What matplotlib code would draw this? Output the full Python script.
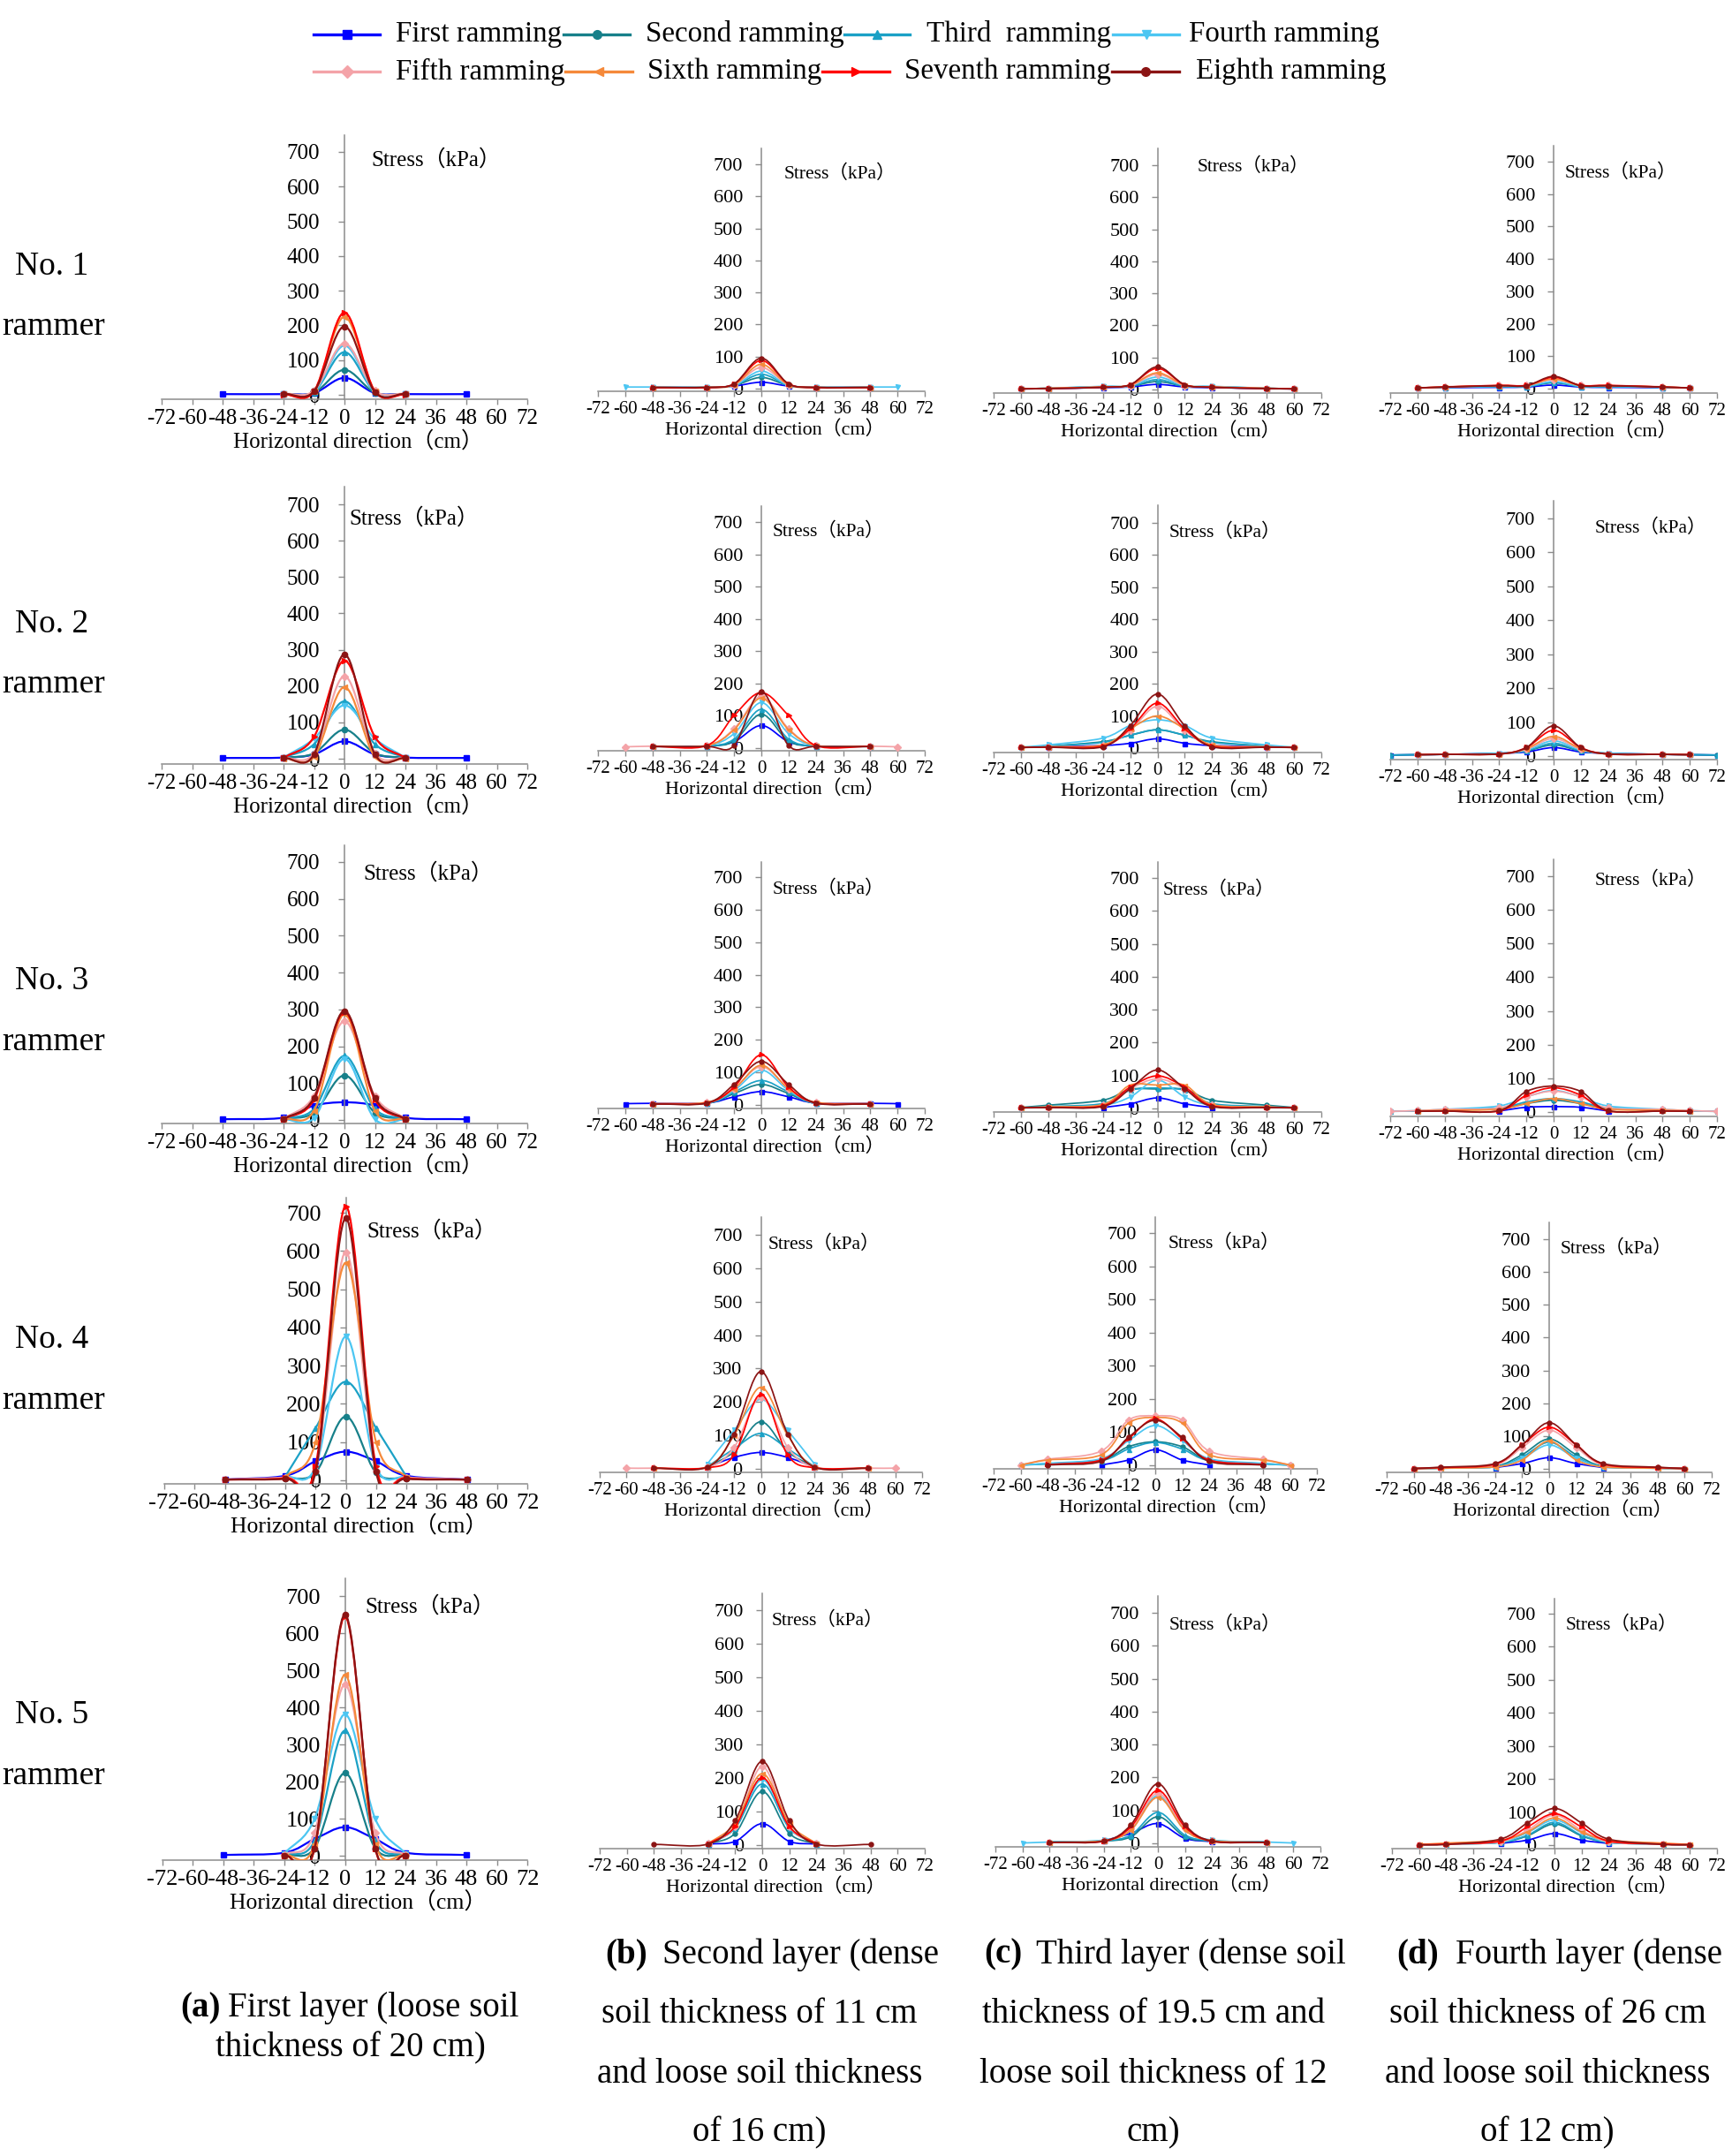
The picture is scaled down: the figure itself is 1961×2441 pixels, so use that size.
import numpy as np
import matplotlib
matplotlib.use('Agg')
import matplotlib.pyplot as plt
from matplotlib.path import Path
from matplotlib.patches import PathPatch
from matplotlib.lines import Line2D

plt.rcParams['font.family'] = ['Liberation Serif', 'Noto Sans CJK SC']
plt.rcParams['axes.unicode_minus'] = False

nan = float('nan')

# ---------------- data ----------------
SERIES = ["First ramming", "Second ramming", "Third  ramming", "Fourth ramming",
          "Fifth ramming", "Sixth ramming", "Seventh ramming", "Eighth ramming"]
COLORS = ['#0000FF', '#17808A', '#1BA1C6', '#4CC6F2',
          '#F4A3A8', '#F5893A', '#FF0000', '#8B1414']
MARKERS = ['s', 'o', '^', 'v', 'D', '<', '>', 'o']

X_A = [-48, -24, -12, 0, 12, 24, 48]
X_BCD = [-72, -60, -48, -24, -12, 0, 12, 24, 48, 60, 72]
X_TICKS = [-72, -60, -48, -36, -24, -12, 0, 12, 24, 36, 48, 60, 72]
Y_TICKS = [0, 100, 200, 300, 400, 500, 600, 700]

ROW_LABELS = ["No. 1", "No. 2", "No. 3", "No. 4", "No. 5"]

# column (a), x = X_A
R1_A = [[2, 2, 5, 49, 5, 2, 2],
        [nan, 2, 6, 72, 6, 2, nan],
        [nan, 2, 8, 123, 8, 2, nan],
        [nan, 2, 8, 142, 8, 2, nan],
        [nan, 3, 12, 148, 12, 3, nan],
        [nan, 2, 10, 225, 10, 2, nan],
        [nan, 1, 10, 237, 10, 1, nan],
        [nan, 3, 10, 197, 8, 3, nan]]
R2_A = [[2, 3, 12, 48, 12, 3, 2],
        [nan, 2, 15, 80, 15, 2, nan],
        [nan, 3, 40, 158, 40, 3, nan],
        [nan, 3, 55, 147, 55, 3, nan],
        [nan, 2, 15, 227, 15, 2, nan],
        [nan, 1, 5, 197, 5, 1, nan],
        [nan, 2, 60, 270, 60, 2, nan],
        [nan, 2, 12, 287, 12, 2, nan]]
R3_A = [[2, 6, 39, 48, 39, 6, 2],
        [nan, 3, 20, 121, 20, 3, nan],
        [nan, 3, 30, 174, 30, 3, nan],
        [nan, 2, 5, 166, 2, 2, nan],
        [nan, 3, 65, 268, 65, 3, nan],
        [nan, 2, 25, 287, 25, 2, nan],
        [nan, 2, 55, 293, 55, 2, nan],
        [nan, 2, 60, 296, 60, 2, nan]]
R4_A = [[2, 12, 50, 75, 50, 12, 2],
        [nan, 5, 20, 167, 20, 5, nan],
        [nan, 10, 137, 258, 137, 10, nan],
        [nan, 8, 35, 376, 35, 8, nan],
        [2, 8, 25, 597, 25, 8, 2],
        [nan, 8, 100, 569, 100, 8, nan],
        [2, 6, 36, 717, 36, 6, 2],
        [2, 4, 22, 686, 22, 4, 2]]
R5_A = [[2, 8, 45, 77, 45, 8, 2],
        [nan, 2, 20, 223, 20, 2, nan],
        [nan, 2, 40, 337, 40, 2, nan],
        [nan, 5, 99, 381, 99, 5, nan],
        [nan, 2, 61, 461, 61, 2, nan],
        [nan, 1, 30, 487, 30, 1, nan],
        [nan, 1, 18, 645, 18, 1, nan],
        [nan, 1, 20, 650, 20, 1, nan]]

# columns (b)-(d), x = X_BCD
R1_B = [[nan, nan, 4, 4, 8, 20, 8, 4, 4, nan, nan],
        [nan, nan, 4, 4, 10, 35, 10, 4, 4, nan, nan],
        [nan, nan, 4, 4, 10, 45, 10, 4, 4, nan, nan],
        [nan, 5, 5, 5, 10, 55, 10, 5, 5, 5, nan],
        [nan, nan, 4, 4, 12, 66, 12, 4, 4, nan, nan],
        [nan, nan, 4, 4, 12, 76, 12, 4, 4, nan, nan],
        [nan, nan, 3, 3, 15, 88, 15, 3, 3, nan, nan],
        [nan, nan, 4, 4, 15, 95, 15, 4, 4, nan, nan]]
R1_C = [[nan, 2, 3, 6, 8, 16, 8, 6, 3, 2, nan],
        [nan, 2, 4, 8, 10, 25, 10, 8, 4, 2, nan],
        [nan, 2, 4, 9, 10, 31, 10, 9, 4, 2, nan],
        [nan, 2, 4, 10, 12, 39, 12, 10, 4, 2, nan],
        [nan, 2, 4, 8, 12, 48, 12, 8, 4, 2, nan],
        [nan, 2, 4, 8, 14, 52, 14, 8, 4, 2, nan],
        [nan, 2, 3, 7, 15, 66, 15, 7, 3, 2, nan],
        [nan, 2, 3, 7, 15, 71, 15, 7, 3, 2, nan]]
R1_D = [[nan, 2, 3, 4, 5, 11, 5, 4, 3, 2, nan],
        [nan, 2, 4, 6, 6, 18, 6, 6, 4, 2, nan],
        [nan, 2, 4, 6, 6, 20, 6, 6, 4, 2, nan],
        [nan, 2, 4, 7, 7, 22, 7, 7, 4, 2, nan],
        [nan, 2, 6, 10, 10, 28, 10, 10, 6, 2, nan],
        [nan, 2, 5, 9, 9, 30, 9, 9, 5, 2, nan],
        [nan, 2, 5, 10, 10, 35, 10, 10, 5, 2, nan],
        [nan, 2, 5, 9, 9, 38, 9, 9, 5, 2, nan]]
R2_B = [[nan, nan, 5, 6, 20, 70, 20, 6, 5, nan, nan],
        [nan, nan, 5, 6, 22, 105, 22, 6, 5, nan, nan],
        [nan, nan, 5, 6, 28, 120, 28, 6, 5, nan, nan],
        [nan, nan, 5, 8, 45, 141, 45, 8, 5, nan, nan],
        [nan, 4, 6, 8, 60, 160, 60, 8, 6, 4, nan],
        [nan, nan, 5, 8, 57, 155, 57, 8, 5, nan, nan],
        [nan, nan, 5, 8, 101, 172, 101, 8, 5, nan, nan],
        [nan, nan, 5, 5, 8, 175, 8, 5, 5, nan, nan]]
R2_C = [[nan, nan, 4, 8, 15, 29, 15, 8, 4, nan, nan],
        [nan, 2, 6, 20, 40, 57, 40, 20, 6, 2, nan],
        [nan, 2, 6, 18, 40, 57, 40, 18, 6, 2, nan],
        [nan, 3, 10, 31, 70, 88, 70, 31, 10, 3, nan],
        [nan, 2, 4, 8, 55, 130, 55, 8, 4, 2, nan],
        [nan, 2, 4, 10, 60, 100, 60, 10, 4, 2, nan],
        [nan, 2, 3, 6, 60, 140, 60, 6, 3, 2, nan],
        [nan, 2, 3, 4, 70, 168, 70, 4, 3, 2, nan]]
R2_D = [[3, 4, 5, 8, 12, 25, 12, 8, 5, 4, 3],
        [3, 4, 5, 8, 15, 33, 15, 8, 5, 4, 3],
        [3, 4, 5, 8, 15, 38, 15, 8, 5, 4, 3],
        [nan, 4, 5, 8, 18, 45, 18, 8, 5, 4, nan],
        [nan, 4, 5, 6, 20, 52, 20, 6, 5, 4, nan],
        [nan, 4, 5, 6, 22, 58, 22, 6, 5, 4, nan],
        [nan, 4, 5, 6, 25, 76, 25, 6, 5, 4, nan],
        [nan, 4, 5, 6, 25, 89, 25, 6, 5, 4, nan]]
R3_B = [[nan, 4, 5, 6, 25, 41, 25, 6, 5, 4, nan],
        [nan, nan, 3, 5, 35, 63, 35, 5, 3, nan, nan],
        [nan, nan, 3, 5, 40, 75, 40, 5, 3, nan, nan],
        [nan, nan, 3, 6, 45, 107, 45, 6, 3, nan, nan],
        [nan, nan, 4, 8, 50, 118, 50, 8, 4, nan, nan],
        [nan, nan, 4, 8, 50, 122, 50, 8, 4, nan, nan],
        [nan, nan, 3, 6, 55, 154, 55, 6, 3, nan, nan],
        [nan, nan, 3, 6, 63, 134, 63, 6, 3, nan, nan]]
R3_C = [[nan, nan, nan, 3, 14, 32, 14, 3, nan, nan, nan],
        [nan, 3, 10, 25, 58, 59, 58, 25, 10, 3, nan],
        [nan, 2, 6, 15, 55, 62, 55, 15, 6, 2, nan],
        [nan, 2, 4, 10, 35, 86, 35, 10, 4, 2, nan],
        [nan, 2, 4, 10, 60, 90, 60, 10, 4, 2, nan],
        [nan, 2, 5, 12, 71, 71, 71, 12, 5, 2, nan],
        [nan, 2, 3, 8, 65, 99, 65, 8, 3, 2, nan],
        [nan, 2, 3, 6, 60, 117, 60, 6, 3, 2, nan]]
R3_D = [[nan, nan, nan, 3, 14, 16, 14, 3, nan, nan, nan],
        [2, 3, 5, 10, 25, 35, 25, 10, 5, 3, 2],
        [2, 3, 6, 12, 30, 40, 30, 12, 6, 3, 2],
        [2, 4, 8, 18, 45, 64, 45, 18, 8, 4, 2],
        [2, 4, 8, 12, 45, 62, 45, 12, 8, 4, 2],
        [nan, 3, 5, 8, 25, 40, 25, 8, 5, 3, nan],
        [nan, 2, 3, 3, 50, 72, 50, 3, 3, 2, nan],
        [nan, 2, 3, 4, 61, 77, 61, 4, 3, 2, nan]]
R4_B = [[nan, nan, nan, 5, 34, 49, 34, 5, nan, nan, nan],
        [nan, nan, nan, 5, 51, 141, 51, 5, nan, nan, nan],
        [nan, nan, nan, 6, 60, 106, 60, 6, nan, nan, nan],
        [nan, nan, nan, 14, 115, 208, 115, 14, nan, nan, nan],
        [nan, 2, 2, 5, 64, 214, 64, 5, 2, 2, nan],
        [nan, nan, 2, 6, 100, 244, 100, 6, 2, nan, nan],
        [nan, nan, 2, 3, 41, 223, 41, 3, 2, nan, nan],
        [nan, nan, 2, 5, 104, 291, 104, 5, 2, nan, nan]]
R4_C = [[nan, nan, nan, 1, 16, 47, 16, 1, nan, nan, nan],
        [nan, 1, 5, 16, 56, 71, 56, 16, 5, 1, nan],
        [nan, 1, 4, 14, 49, 69, 49, 14, 4, 1, nan],
        [nan, 1, 6, 20, 74, 120, 74, 20, 6, 1, nan],
        [nan, 1, 18, 43, 136, 149, 136, 43, 18, 1, nan],
        [nan, 1, 16, 32, 127, 144, 127, 32, 16, 1, nan],
        [nan, nan, 2, 16, 80, 140, 80, 16, 2, nan, nan],
        [nan, nan, 1, 12, 84, 136, 84, 12, 1, nan, nan]]
R4_D = [[nan, nan, nan, 4, 16, 34, 16, 4, nan, nan, nan],
        [nan, 1, 2, 8, 43, 91, 43, 8, 2, 1, nan],
        [nan, 1, 2, 6, 36, 81, 36, 6, 2, 1, nan],
        [nan, 1, 2, 6, 32, 73, 32, 6, 2, 1, nan],
        [nan, 1, 3, 12, 65, 118, 65, 12, 3, 1, nan],
        [nan, 1, 2, 6, 27, 85, 27, 6, 2, 1, nan],
        [nan, 1, 4, 14, 73, 127, 73, 14, 4, 1, nan],
        [nan, 1, 5, 16, 73, 141, 73, 16, 5, 1, nan]]
R5_B = [[nan, nan, nan, 3, 11, 64, 11, 3, nan, nan, nan],
        [nan, nan, nan, 3, 35, 160, 35, 3, nan, nan, nan],
        [nan, nan, nan, 3, 50, 182, 50, 3, nan, nan, nan],
        [nan, nan, nan, 4, 55, 195, 55, 4, nan, nan, nan],
        [nan, nan, nan, 5, 55, 234, 55, 5, nan, nan, nan],
        [nan, nan, nan, 4, 65, 213, 65, 4, nan, nan, nan],
        [nan, nan, nan, 3, 55, 201, 55, 3, nan, nan, nan],
        [nan, nan, 2, 3, 73, 250, 73, 3, 2, nan, nan]]
R5_C = [[nan, nan, nan, 8, 30, 60, 15, 5, nan, nan, nan],
        [nan, nan, 4, 7, 20, 81, 20, 7, 4, nan, nan],
        [nan, nan, 4, 8, 25, 94, 25, 8, 4, nan, nan],
        [nan, 1, 4, 10, 40, 145, 40, 10, 4, 1, nan],
        [nan, nan, 3, 8, 45, 152, 45, 8, 3, nan, nan],
        [nan, nan, 3, 8, 40, 140, 40, 8, 3, nan, nan],
        [nan, nan, 3, 6, 50, 161, 50, 6, 3, nan, nan],
        [nan, nan, 3, 7, 56, 181, 56, 7, 3, nan, nan]]
R5_D = [[nan, nan, nan, 5, 15, 35, 15, 5, nan, nan, nan],
        [nan, 1, 3, 8, 28, 64, 28, 8, 3, 1, nan],
        [nan, 1, 3, 8, 30, 69, 30, 8, 3, 1, nan],
        [nan, 1, 3, 9, 38, 76, 38, 9, 3, 1, nan],
        [nan, 1, 3, 10, 45, 91, 45, 10, 3, 1, nan],
        [nan, 2, 6, 15, 40, 82, 40, 15, 6, 2, nan],
        [nan, 1, 3, 12, 55, 95, 55, 12, 3, 1, nan],
        [nan, 1, 2, 18, 67, 111, 67, 18, 2, 1, nan]]

PANEL_DATA = [[R1_A, R1_B, R1_C, R1_D],
              [R2_A, R2_B, R2_C, R2_D],
              [R3_A, R3_B, R3_C, R3_D],
              [R4_A, R4_B, R4_C, R4_D],
              [R5_A, R5_B, R5_C, R5_D]]

CAPTIONS = [("(a)", "First layer (loose soil", ["thickness of 20 cm)"]),
            ("(b)", "Second layer (dense", ["soil thickness of 11 cm", "and loose soil thickness", "of 16 cm)"]),
            ("(c)", "Third layer (dense soil", ["thickness of 19.5 cm and", "loose soil thickness of 12", "cm)"]),
            ("(d)", "Fourth layer (dense", ["soil thickness of 26 cm", "and loose soil thickness", "of 12 cm)"])]

# ---------------- layout (pixels in the 1961x2441 canvas) ----------------
W, H = 1961, 2441
# (x at -72, x at 72, top of y axis, y of 700, y of 0, y of x-axis line)
LAYOUT = [
    [(183, 597, 153, 172, 447, 452), (677, 1047, 168, 186, 440, 443),
     (1125, 1496, 168, 187, 441, 445), (1574, 1944, 165, 183, 440, 445)],
    [(183, 597, 551, 571, 859, 865), (677, 1047, 573, 591, 847, 850),
     (1125, 1496, 572, 592, 847, 852), (1574, 1944, 567, 587, 856, 860)],
    [(183, 597, 957, 976, 1268, 1272), (677, 1047, 976, 993, 1251, 1255),
     (1125, 1496, 976, 994, 1255, 1259), (1574, 1944, 973, 992, 1259, 1264)],
    [(186, 597, 1356, 1373, 1676, 1680), (679, 1044, 1378, 1398, 1663, 1667),
     (1125, 1491, 1378, 1396, 1659, 1663), (1570, 1938, 1384, 1403, 1663, 1667)],
    [(184, 597, 1787, 1807, 2101, 2106), (679, 1047, 1804, 1823, 2089, 2093),
     (1127, 1495, 1807, 1826, 2087, 2091), (1576, 1944, 1810, 1827, 2089, 2093)],
]
STRESS_POS = [[(10.7, 679), (9.9, 670), (17.7, 695), (5, 666)],
              [(2, 663), (5, 670), (5, 672), (18, 671)],
              [(7.3, 670), (5, 662), (2.3, 662), (18, 689)],
              [(8.4, 653), (3.2, 673), (5.9, 670), (5, 671)],
              [(8, 673), (4.3, 670), (5, 664), (5, 666)]]
ROW_Y = [(302, 370), (707, 775), (1111, 1180), (1517, 1586), (1942, 2011)]

AXIS_GREY = '#8C8C8C'

fig = plt.figure(figsize=(W / 100, H / 100), dpi=100)


def fx(x):
    return x / W


def fy(y):
    return 1 - y / H


def smooth_path(xs, ys):
    P = np.column_stack([xs, ys]).astype(float)
    n = len(P)
    T = np.zeros_like(P)
    for i in range(n):
        if i == 0:
            T[i] = P[1] - P[0]
        elif i == n - 1:
            T[i] = P[-1] - P[-2]
        else:
            T[i] = (P[i + 1] - P[i - 1]) / 2
    verts = [P[0]]
    codes = [Path.MOVETO]
    for i in range(n - 1):
        verts += [P[i] + T[i] / 3, P[i + 1] - T[i + 1] / 3, P[i + 1]]
        codes += [Path.CURVE4] * 3
    return Path(verts, codes)


for r in range(5):
    for c in range(4):
        xl, xr, ytop, y700, y0, yax = LAYOUT[r][c]
        scale = (y0 - y700) / 700.0
        ymin = -(yax - y0) / scale
        ymax = (y0 - ytop) / scale
        ax = fig.add_axes([fx(xl), fy(yax), (xr - xl) / W, (yax - ytop) / H])
        ax.set_xlim(-72, 72)
        ax.set_ylim(ymin, ymax)
        ax.patch.set_alpha(0)
        for s in ['top', 'right']:
            ax.spines[s].set_visible(False)
        ax.spines['left'].set_position(('data', 0))
        for s in ['left', 'bottom']:
            ax.spines[s].set_color(AXIS_GREY)
            ax.spines[s].set_linewidth(1.1)

        if c == 0:
            fs_tick, fs_lab, fs_stress = (18, 18, 18) if r < 3 else (19, 18.5, 18)
            lw, ms, ypad = 1.6, 4.5, 15
        else:
            fs_tick, fs_lab, fs_stress = 15, 15.8, 15.5
            lw, ms, ypad = 1.25, 3.6, 10

        ax.set_xticks(X_TICKS)
        ax.set_xticklabels([str(v) for v in X_TICKS], fontsize=fs_tick)
        ax.set_yticks(Y_TICKS)
        ax.set_yticklabels([str(v) for v in Y_TICKS], fontsize=fs_tick + (1 if c else 0))
        ax.tick_params(axis='x', direction='out', length=4, width=1, color=AXIS_GREY, pad=4)
        ax.tick_params(axis='y', direction='out', length=5, width=1, color=AXIS_GREY, pad=ypad)
        ax.set_xlabel('Horizontal direction（cm）', fontsize=fs_lab, labelpad=2)
        ax.xaxis.label.set_x(0.5 + 15.0 / (xr - xl))

        xs = X_A if c == 0 else X_BCD
        for k, ys in enumerate(PANEL_DATA[r][c]):
            pts = [(x, y) for x, y in zip(xs, ys) if not np.isnan(y)]
            px = np.array([p[0] for p in pts], float)
            py = np.array([p[1] for p in pts], float)
            ax.add_patch(PathPatch(smooth_path(px, py), facecolor='none',
                                   edgecolor=COLORS[k], lw=lw, zorder=2 + k))
            ax.plot(px, py, linestyle='none', marker=MARKERS[k], color=COLORS[k],
                    ms=ms, zorder=2 + k)

        sx, sy = STRESS_POS[r][c]
        ax.text(sx, sy, 'Stress（kPa）', fontsize=fs_stress, ha='left', va='center')

# row labels
for r in range(5):
    y1, y2 = ROW_Y[r]
    fig.text(fx(59), fy(y1), ROW_LABELS[r], fontsize=27, ha='center', va='center')
    fig.text(fx(61), fy(y2), 'rammer', fontsize=27, ha='center', va='center')

# legend (manual, two rows of four)
LEG_POS = [(355, 430, 448, 39), (638, 713, 731, 39), (956, 1030, 1049, 39), (1260, 1335, 1346, 39),
           (355, 430, 448, 81), (640, 716, 733, 81), (931, 1007, 1024, 81), (1259, 1335, 1354, 81)]
for k, (x0, x1, xt, yy) in enumerate(LEG_POS):
    fig.add_artist(Line2D([fx(x0), fx(x1)], [fy(yy), fy(yy)], transform=fig.transFigure,
                          color=COLORS[k], lw=2.4))
    fig.add_artist(Line2D([fx((x0 + x1) / 2)], [fy(yy)], transform=fig.transFigure,
                          color=COLORS[k], marker=MARKERS[k], ms=7, linestyle='none'))
    fig.text(fx(xt), fy(yy), SERIES[k], fontsize=23.8, ha='left', va='center')

# captions
CAP_FS = 28
# (a)
fig.text(fx(204), fy(2274), CAPTIONS[0][0], fontsize=CAP_FS, fontweight='bold', ha='left', va='center')
fig.text(fx(258), fy(2274), CAPTIONS[0][1], fontsize=CAP_FS, ha='left', va='center')
fig.text(fx(397), fy(2319), CAPTIONS[0][2][0], fontsize=CAP_FS, ha='center', va='center')
CAP_XY = [None, (685, 750, 860), (1114, 1173, 1306), (1581, 1648, 1752)]
LINE_Y = [2213, 2281, 2348, 2415]
for i in range(1, 4):
    xb, xt, xc = CAP_XY[i]
    lab, first, rest = CAPTIONS[i]
    fig.text(fx(xb), fy(LINE_Y[0]), lab, fontsize=CAP_FS, fontweight='bold', ha='left', va='center')
    fig.text(fx(xt), fy(LINE_Y[0]), first, fontsize=CAP_FS, ha='left', va='center')
    for j, line in enumerate(rest):
        fig.text(fx(xc), fy(LINE_Y[j + 1]), line, fontsize=CAP_FS, ha='center', va='center')

fig.savefig('out.png', dpi=100)
